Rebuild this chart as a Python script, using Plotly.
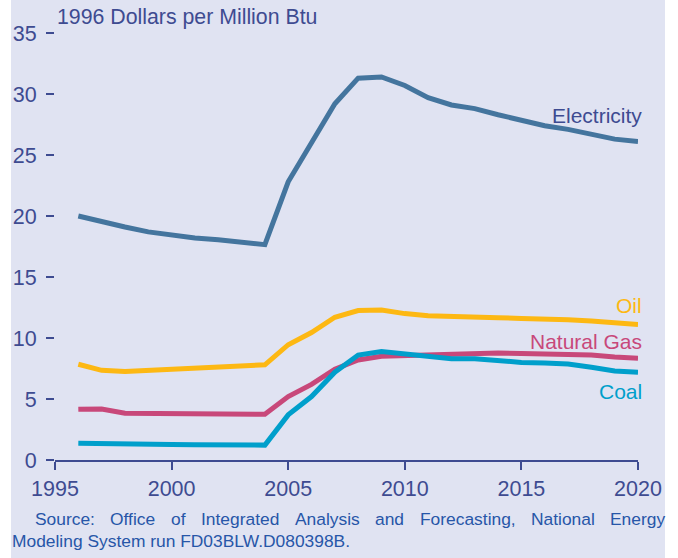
import plotly.graph_objects as go

years = list(range(1996, 2021))
electricity = [20.0, 19.5, 19.1, 18.7, 18.4, 18.2, 18.05, 17.85, 17.65, 22.8, 26.0, 29.2, 31.3, 31.4,
               30.7, 29.7, 29.1, 28.8, 28.3, 27.8, 27.4, 27.1, 26.7, 26.3, 26.1]
oil = [7.85, 7.35, 7.25, 7.35, 7.45, 7.52, 7.6, 7.7, 7.8, 9.45, 10.45, 11.7, 12.25, 12.3,
       12.0, 11.83, 11.8, 11.75, 11.67, 11.6, 11.6, 11.5, 11.4, 11.2, 11.1]
natural_gas = [4.15, 4.18, 3.83, 3.8, 3.78, 3.78, 3.77, 3.76, 3.75, 5.2, 6.2, 7.45, 8.2, 8.5,
               8.55, 8.6, 8.7, 8.77, 8.77, 8.72, 8.7, 8.7, 8.6, 8.45, 8.35]
coal = [1.37, 1.32, 1.3, 1.28, 1.27, 1.26, 1.25, 1.24, 1.22, 3.7, 5.2, 7.2, 8.6, 8.9,
        8.7, 8.4, 8.3, 8.3, 8.1, 8.0, 7.95, 7.86, 7.6, 7.3, 7.2]

series_names = ["Electricity", "Oil", "Natural Gas", "Coal"]
series_values = [electricity, oil, natural_gas, coal]
line_colors = ["#44759E", "#FDB813", "#C8487A", "#009FCB"]
label_colors = ["#3E4B91", "#FDB813", "#C8487A", "#009FCB"]

x_ticks = [1995, 2000, 2005, 2010, 2015, 2020]
y_ticks = [0, 5, 10, 15, 20, 25, 30, 35]

title_text = "1996 Dollars per Million Btu"
source_line1 = ["Source:", "Office", "of", "Integrated", "Analysis", "and",
                "Forecasting,", "National", "Energy"]
source_line2 = "Modeling System run FD03BLW.D080398B."

W, H = 678, 558
ML, MR, MT, MB = 55, 40, 33, 98
PW = W - ML - MR
PH = H - MT - MB

def px(x):
    return (x - ML) / PW

def py(y):
    return (H - MB - y) / PH

FONT = "Liberation Sans, Arial, sans-serif"
NAVY = "#3E4B91"
SRC = "#2756A8"
BG = "#E0E3F2"
SRC_SIZE = 17.4

# Arial advance widths (em) for justifying the first source line
AW = {'S': .667, 'o': .556, 'u': .556, 'r': .333, 'c': .5, 'e': .556, ':': .278,
      'O': .778, 'f': .278, 'i': .222, 'I': .278, 'n': .556, 't': .278, 'g': .556,
      'a': .556, 'd': .556, 'A': .667, 'l': .222, 'y': .5, 's': .5, 'F': .611,
      ',': .278, 'N': .722, 'E': .667}

def wwidth(w):
    return sum(AW.get(ch, .556) for ch in w) * SRC_SIZE

fig = go.Figure()
for name, vals, col in zip(series_names, series_values, line_colors):
    fig.add_trace(go.Scatter(x=years, y=vals, mode="lines", name=name,
                             line=dict(color=col, width=5), showlegend=False,
                             hoverinfo="skip"))

fig.add_shape(type="rect", xref="paper", yref="paper",
              x0=px(11), x1=px(665), y0=py(H), y1=py(0),
              fillcolor=BG, line=dict(width=0), layer="below")

ann = []
ann.append(dict(text=title_text, x=px(55), y=py(17), xref="paper", yref="paper",
                xanchor="left", yanchor="middle", showarrow=False,
                font=dict(family=FONT, size=21.3, color=NAVY)))

label_y = [115, 305.5, 341, 391]
for name, col, ly in zip(series_names, label_colors, label_y):
    ann.append(dict(text=name, x=px(644), y=py(ly), xref="paper", yref="paper",
                    xanchor="right", yanchor="middle", showarrow=False,
                    font=dict(family=FONT, size=21, color=col)))

# justified first line between x=35 and x=663
left, right = 34, 664
widths = [wwidth(w) for w in source_line1]
gap = (right - left - sum(widths)) / (len(source_line1) - 1)
cur = left
for w, ww in zip(source_line1, widths):
    ann.append(dict(text=w, x=px(cur - 1), y=py(519), xref="paper", yref="paper",
                    xanchor="left", yanchor="middle", showarrow=False,
                    font=dict(family=FONT, size=SRC_SIZE, color=SRC)))
    cur += ww + gap
ann.append(dict(text=source_line2, x=px(10), y=py(541), xref="paper", yref="paper",
                xanchor="left", yanchor="middle", showarrow=False,
                font=dict(family=FONT, size=SRC_SIZE, color=SRC)))

fig.update_layout(
    width=W, height=H,
    margin=dict(l=ML, r=MR, t=MT, b=MB),
    paper_bgcolor="white",
    plot_bgcolor="rgba(0,0,0,0)",
    annotations=ann,
    xaxis=dict(range=[1995, 2020], tickvals=x_ticks, showgrid=False, zeroline=False,
               showline=True, linecolor=NAVY, linewidth=1.5,
               ticks="outside", ticklen=8, tickwidth=1.5, tickcolor=NAVY,
               tickfont=dict(family=FONT, size=21.5, color=NAVY)),
    yaxis=dict(range=[0, 35], tickvals=y_ticks, showgrid=False, zeroline=False,
               showline=False, ticks="outside", ticklen=8, tickwidth=1.5, tickcolor=NAVY,
               ticklabelstandoff=5,
               tickfont=dict(family=FONT, size=21.5, color=NAVY)),
)

fig.write_html("out.html", config={"displayModeBar": False},
               post_script="document.body.style.margin='0';document.body.style.padding='0';")
